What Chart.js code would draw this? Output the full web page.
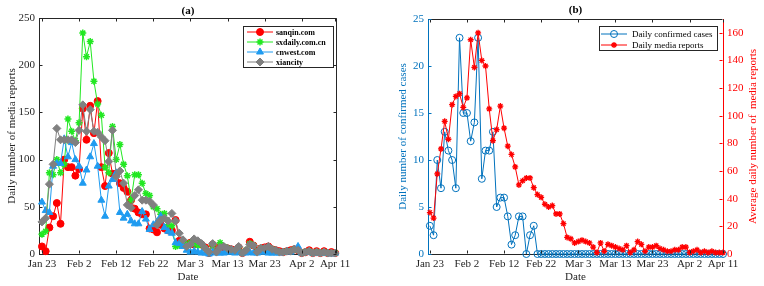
<!DOCTYPE html>
<html>
<head>
<meta charset="utf-8">
<script src="https://cdn.jsdelivr.net/npm/chart.js@4.4.1/dist/chart.umd.min.js"></script>
<style>
  html, body { margin: 0; padding: 0; background: #fff; }
  #wrap { position: relative; width: 764px; height: 286px; }
  canvas { position: absolute; top: 0; }
  #chartA { left: 0; }
  #chartB { left: 380px; }
</style>
</head>
<body>
<div id="wrap">
  <canvas id="chartA" width="380" height="286"></canvas>
  <canvas id="chartB" width="384" height="286"></canvas>
</div>
<script>
// day 0 = Jan 23 (2020), day 79 = Apr 11
const DAYS = Array.from({ length: 80 }, (_, i) => i);
const TICK_DAYS   = [0, 10, 20, 30, 40, 50, 60, 70, 79];
const TICK_LABELS = ['Jan 23', 'Feb 2', 'Feb 12', 'Feb 22', 'Mar 3', 'Mar 13', 'Mar 23', 'Apr 2', 'Apr 11'];

// panel (a): daily media reports per site
const sanqin = [8,3,28,40,54,32,100,92,92,83, 90,154,121,157,128,162,92,72,107,85,
  85,75,70,66,57,48,44,42,42,27, 26,23,31,27,25,25,36,14,12,10,
  12,10,11,10,7,1,10,3,8,7, 6,5,4,7,1,3,13,9,3,6,
  7,8,5,4,3,2,3,4,5,4, 1,2,4,1,3,1,3,1,2,1];
const sxdaily = [21,24,86,84,100,86,95,143,130,120, 139,234,209,225,183,159,147,92,86,135,
  100,116,95,83,57,84,84,75,64,62, 50,48,42,43,31,30,8,9,12,10,
  12,11,9,10,6,1,9,2,12,8, 6,4,3,7,1,4,11,9,2,6,
  5,7,5,3,2,2,3,3,5,4, 1,2,3,1,2,1,2,1,1,1];
const cnwest = [55,46,44,93,96,96,122,103,118,100, 93,75,89,103,117,93,57,40,72,79,
  86,44,38,42,35,32,32,45,37,26, 31,34,40,28,24,22,12,11,8,4,
  2,3,2,1,1,0,2,1,1,1, 2,2,1,2,1,1,2,1,1,2,
  2,1,1,1,1,2,3,2,5,8, 1,2,2,1,1,1,1,1,0,1];
const xiancity = [34,38,74,95,133,121,121,121,121,118, 131,158,130,153,130,129,124,120,98,131,
  82,88,75,52,49,62,68,57,57,56, 52,31,36,38,35,43,35,22,15,8,
  10,16,14,11,6,2,11,2,7,8, 6,5,4,8,1,4,10,9,2,6,
  6,8,5,4,2,2,3,3,5,4, 1,2,3,1,2,1,2,1,1,1];

// panel (b)
const confirmed = [3,2,10,7,13,11,10,7,23,15, 15,12,14,23,8,11,11,13,5,6,
  6,4,1,2,4,4,0,2,3,0, 0,0,0,0,0,0,0,0,0,0,
  0,0,0,0,0,0,0,0,0,0, 0,0,0,0,0,0,0,0,0,0,
  0,0,0,0,0,0,0,0,0,0, 0,0,0,0,0,0,0,0,0,0];
const mediaAvg = [30,26,58,76,96,83,108,114,116,106, 113,155,135,160,140,136,105,82,90,107,
  91,78,72,63,50,53,55,55,48,43, 41,36,34,35,29,29,22,12,11,8,
  9,10,9,8,5,1,8,2,7,6, 5,4,3,6,1,3,9,7,2,5,
  5,6,4,3,2,2,3,3,5,5, 1,2,3,1,2,1,2,1,1,1];

const Y_TICKS_A  = [0, 50, 100, 150, 200, 250];
const Y_TICKS_B  = [0, 5, 10, 15, 20, 25];
const Y1_TICKS_B = [0, 20, 40, 60, 80, 100, 120, 140, 160];

const SERIF = '"Liberation Serif", "Times New Roman", serif';
const AXIS = '#262626';
const BLUE = '#0072bd';
const RED = '#ff0000';

const pts = arr => DAYS.map((d, i) => ({ x: d, y: arr[i] }));
const fixTicks = list => scale => { scale.ticks = list.map(v => ({ value: v })); };

function series(label, data, color, style, radius, order, extra) {
    return Object.assign({
        label, data: pts(data), order,
        borderColor: color, borderWidth: 1,
        pointStyle: style, pointRadius: radius,
        pointBackgroundColor: color, pointBorderColor: color, pointBorderWidth: 1,
        tension: 0, clip: false,
    }, extra || {});
}

function hline(ctx, x0, y0, x1, y1, color) {
    ctx.strokeStyle = color;
    ctx.beginPath(); ctx.moveTo(x0, y0); ctx.lineTo(x1, y1); ctx.stroke();
}

// box, inward ticks, panel title, legend and right-hand title (MATLAB look)
const framePlugin = {
    id: 'frame',
    afterDraw(chart, args, o) {
        const { ctx, chartArea: a, scales } = chart;
        const L = Math.round(a.left) + 0.5, R = Math.round(a.right) - 0.5;
        const T = Math.round(a.top) + 0.5, B = Math.round(a.bottom) - 0.5;
        ctx.save();
        ctx.lineWidth = 1;

        hline(ctx, L, T, R, T, AXIS);
        if (!scales.y1) hline(ctx, R, T, R, B, AXIS);

        scales.x.ticks.forEach(t => {
            const x = Math.round(scales.x.getPixelForValue(t.value)) + 0.5;
            hline(ctx, x, B, x, B - 3, AXIS);
            hline(ctx, x, T, x, T + 3, AXIS);
        });
        const yc = o.yColor || AXIS;
        scales.y.ticks.forEach(t => {
            const y = Math.round(scales.y.getPixelForValue(t.value)) + 0.5;
            hline(ctx, L, y, L + 3, y, yc);
            if (!scales.y1) hline(ctx, R, y, R - 3, y, AXIS);
        });
        if (scales.y1) {
            scales.y1.ticks.forEach(t => {
                const y = Math.round(scales.y1.getPixelForValue(t.value)) + 0.5;
                hline(ctx, R, y, R - 3, y, RED);
            });
        }

        ctx.fillStyle = '#000';
        ctx.font = 'bold 11px ' + SERIF;
        ctx.textAlign = 'center';
        ctx.textBaseline = 'middle';
        ctx.fillText(o.title, (a.left + a.right) / 2, o.titleY);

        ctx.font = '11px ' + SERIF;
        if (o.rightTitle) {
            ctx.save();
            ctx.translate(o.rightTitle.x, (a.top + a.bottom) / 2);
            ctx.rotate(-Math.PI / 2);
            ctx.fillStyle = o.rightTitle.color;
            ctx.fillText(o.rightTitle.text, 0, 0);
            ctx.restore();
        }

        const lg = o.legend;
        ctx.fillStyle = '#fff';
        ctx.fillRect(lg.x, lg.y, lg.w, lg.h);
        ctx.strokeStyle = AXIS;
        ctx.strokeRect(lg.x + 0.5, lg.y + 0.5, lg.w, lg.h);
        ctx.textAlign = 'left';
        ctx.font = lg.font;
        chart.data.datasets.forEach((ds, i) => {
            const y = lg.y + lg.first + i * lg.rowH;
            ctx.lineWidth = ds.borderWidth;
            hline(ctx, lg.line[0], y, lg.line[1], y, ds.borderColor);
            ctx.fillStyle = ds.pointBackgroundColor;
            ctx.strokeStyle = ds.pointBorderColor;
            ctx.lineWidth = ds.pointBorderWidth;
            Chart.helpers.drawPoint(ctx, {
                pointStyle: ds.pointStyle, radius: ds.pointRadius,
                borderWidth: ds.pointBorderWidth, rotation: 0,
            }, (lg.line[0] + lg.line[1]) / 2, y);
            ctx.fillStyle = '#000';
            ctx.fillText(ds.label, lg.textX, y + 0.5);
        });
        ctx.restore();
    }
};

function xScale(min, max, titlePad) {
    return {
        type: 'linear', min, max,
        afterBuildTicks: fixTicks(TICK_DAYS),
        afterFit: s => { s.height = 32; },
        grid: { display: false, drawTicks: false },
        border: { display: true, color: AXIS },
        ticks: {
            autoSkip: false, maxRotation: 0, padding: 4, color: AXIS,
            font: { family: SERIF, size: 11 },
            callback: (v, i) => TICK_LABELS[i],
        },
        title: { display: true, text: 'Date', color: AXIS,
                 font: { family: SERIF, size: 11 }, padding: { top: 0, bottom: titlePad } },
    };
}

function yScale(pos, min, max, ticks, width, color, title, titlePad) {
    return {
        type: 'linear', position: pos, min, max,
        afterBuildTicks: fixTicks(ticks),
        afterFit: s => { s.width = width; },
        grid: { display: false, drawTicks: false },
        border: { display: true, color },
        ticks: { padding: 4, color, font: { family: SERIF, size: 11 } },
        title: { display: !!title, text: title, color,
                 font: { family: SERIF, size: 11 }, padding: { top: titlePad, bottom: 0 } },
    };
}

new Chart(document.getElementById('chartA'), {
    type: 'line',
    data: {
        datasets: [
            series('sanqin.com', sanqin, '#ff0000', 'circle', 3.5, 4),
            series('sxdaily.com.cn', sxdaily, '#22e822', 'star', 3.5, 3, { pointBorderWidth: 1.5 }),
            series('cnwest.com', cnwest, '#1f9bf0', 'triangle', 4, 2),
            series('xiancity', xiancity, '#808080', 'rectRot', 4, 1),
        ]
    },
    options: {
        responsive: false, animation: false, devicePixelRatio: 1,
        layout: { padding: { top: 18, right: 43, left: 0, bottom: 0 } },
        plugins: {
            legend: { display: false }, tooltip: { enabled: false },
            frame: {
                title: '(a)', titleY: 11,
                legend: { x: 243, y: 26, w: 90, h: 41, line: [247, 273], textX: 276,
                          first: 6, rowH: 10, font: 'bold 8px ' + SERIF },
            },
        },
        scales: {
            x: xScale(-0.8, 79.5, 2.4),
            y: yScale('left', 0, 250, Y_TICKS_A, 39, AXIS, 'Daily number of media reports', 5.4),
        }
    },
    plugins: [framePlugin]
});

new Chart(document.getElementById('chartB'), {
    type: 'line',
    data: {
        datasets: [
            series('Daily confirmed cases', confirmed, BLUE, 'circle', 3.5, 2,
                   { pointBackgroundColor: 'rgba(0,0,0,0)', yAxisID: 'y' }),
            series('Daily media reports', mediaAvg, RED, 'star', 3, 1,
                   { pointBorderWidth: 1.3, yAxisID: 'y1' }),
        ]
    },
    options: {
        responsive: false, animation: false, devicePixelRatio: 1,
        layout: { padding: { top: 19, right: 0, left: 0, bottom: 0 } },
        plugins: {
            legend: { display: false }, tooltip: { enabled: false },
            frame: {
                title: '(b)', titleY: 10.5, yColor: BLUE,
                legend: { x: 219, y: 26, w: 118, h: 24, line: [221, 247], textX: 252,
                          first: 8, rowH: 11, font: '9px ' + SERIF },
                rightTitle: { text: 'Average daily number of  media reports', color: RED, x: 373 },
            },
        },
        scales: {
            x: xScale(-0.5, 79, 2.4),
            y: yScale('left', 0, 25, Y_TICKS_B, 48, BLUE, 'Daily number of confirmed cases', 16.4),
            y1: yScale('right', 0, 170, Y1_TICKS_B, 41, RED, '', 0),
        }
    },
    plugins: [framePlugin]
});
</script>
</body>
</html>
